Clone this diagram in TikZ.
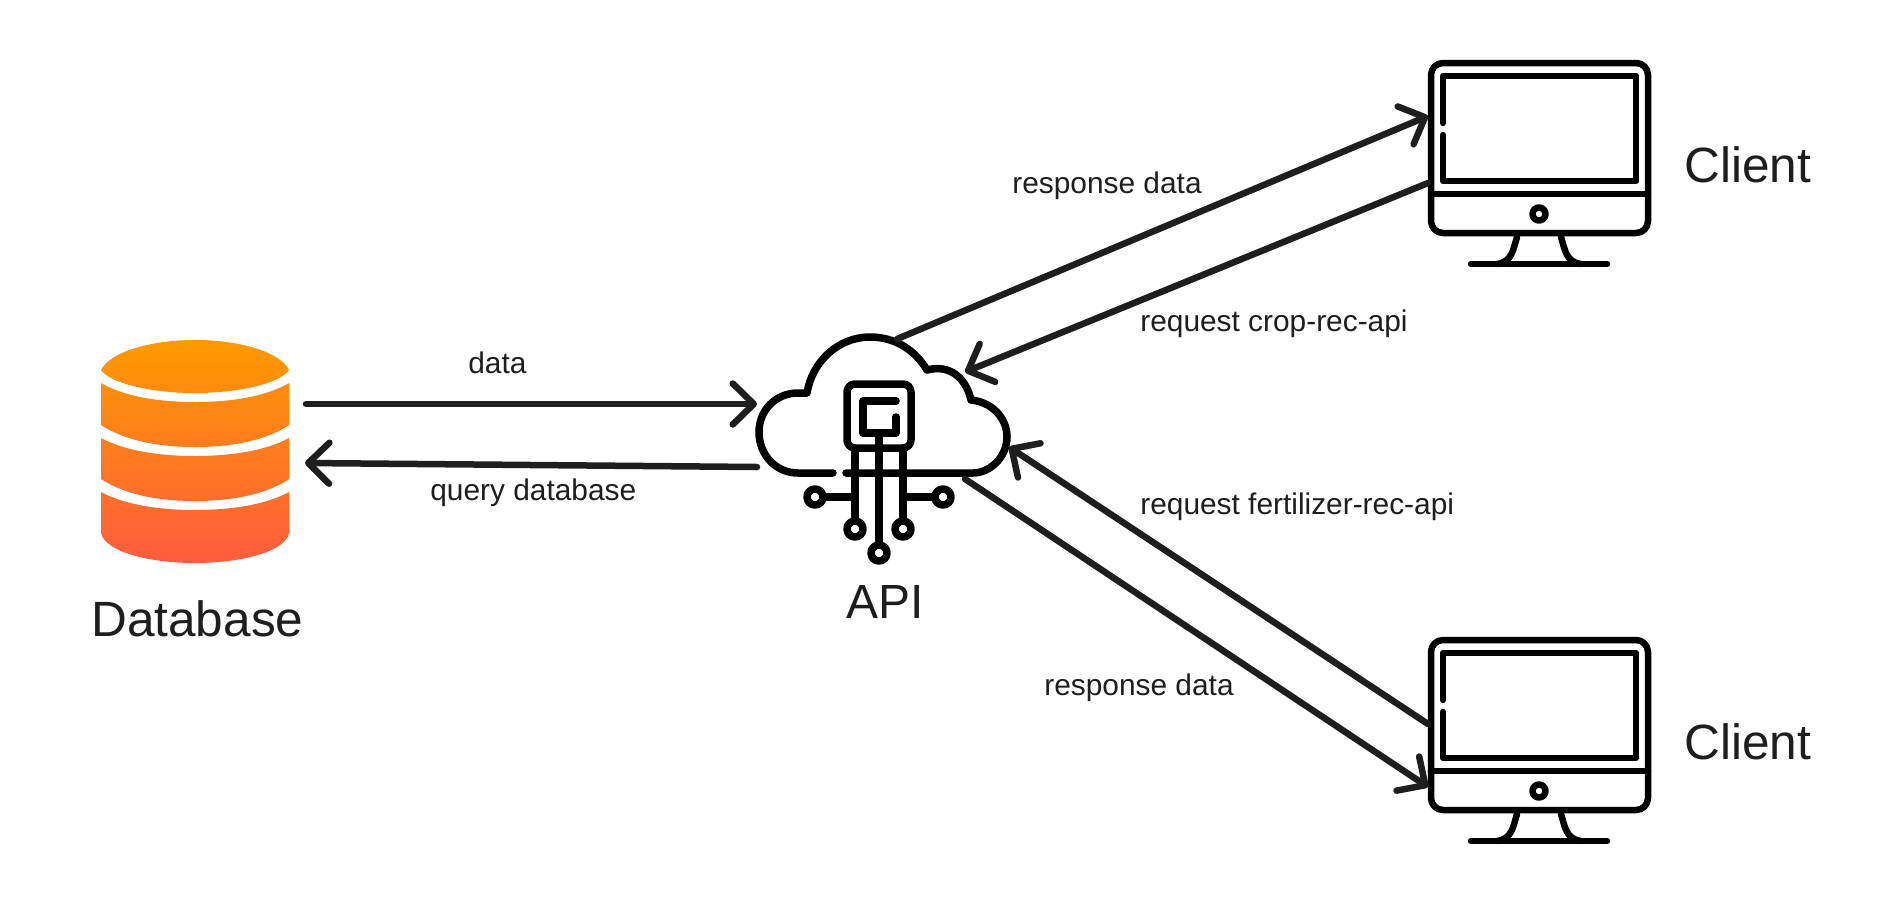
\documentclass[tikz,border=0pt]{standalone}
\usepackage{fontspec}
\setmainfont{Liberation Sans}
\usetikzlibrary{arrows.meta}
\definecolor{inkgrey}{HTML}{1E1E1E}
\definecolor{dbtop}{HTML}{FF9A00}
\definecolor{dbbottom}{HTML}{FF5C3E}
\tikzset{
	flow/.style={draw=inkgrey, line width=0.13cm, line cap=round, -{Straight Barb[length=0.42cm, width=0.82cm, round]}},
	icon/.style={draw=black, line width=0.15cm, line cap=round, line join=round},
	screen/.style={draw=black, line width=0.13cm, line cap=round, line join=round},
	flowlabel/.style={inkgrey, anchor=base west, inner sep=0pt, font=\fontsize{17}{20}\selectfont},
	title/.style={inkgrey, anchor=base west, inner sep=0pt, font=\fontsize{28.2}{32}\selectfont},
}
\begin{document}
\begin{tikzpicture}[x=0.02cm, y=-0.02cm]
	\useasboundingbox (0,0) rectangle (1900,923);
	% database
	\shade[top color=dbtop, bottom color=dbbottom]
		(101,370) .. controls (110,352) and (150,340) .. (195,340) .. controls (240,340) and (280,352) .. (289,370)
		.. controls (280,383) and (240,393) .. (195,393) .. controls (150,393) and (110,383) .. (101,370) -- cycle
		(101,383) .. controls (125,397) and (160,402) .. (195,402) .. controls (230,402) and (265,397) .. (289,383)
		-- (289,425) .. controls (265,441) and (230,447) .. (195,447) .. controls (160,447) and (125,441) .. (101,425) -- cycle
		(101,438) .. controls (125,451) and (160,456) .. (195,456) .. controls (230,456) and (265,451) .. (289,438)
		-- (289,479) .. controls (265,495) and (230,501) .. (195,501) .. controls (160,501) and (125,495) .. (101,479) -- cycle
		(101,492) .. controls (125,505) and (160,510) .. (195,510) .. controls (230,510) and (265,505) .. (289,492)
		-- (289,533) .. controls (285,552) and (240,563) .. (195,563) .. controls (150,563) and (105,552) .. (101,533) -- cycle;
	\node[title] (database) at (91,636) {Database};
	% api cloud
	\draw[icon] (833,473) -- (798,473) .. controls (776,473) and (759,455) .. (759,432) .. controls (759,410) and (776,393) .. (798,393) -- (807,393)
		.. controls (812,362) and (838,337) .. (870,337) .. controls (895,337) and (915,350) .. (927,370)
		.. controls (950,364) and (966,378) .. (971,400) .. controls (992,402) and (1007,418) .. (1007,437)
		.. controls (1007,457) and (990,473) .. (973,473) -- (846,473);
	\draw[icon, rounded corners=0.16cm] (847,384) rectangle (911,448);
	\draw[icon] (896,401) -- (863,401) -- (863,433) -- (896,433) -- (896,417);
	\draw[icon] (855,448) -- (855,521);
	\draw[icon] (879,433) -- (879,545);
	\draw[icon] (903,448) -- (903,521);
	\draw[icon] (823,497) -- (855,497);
	\draw[icon] (903,497) -- (935,497);
	\draw[icon] (815,497) circle[radius=0.16cm];
	\draw[icon] (943,497) circle[radius=0.16cm];
	\draw[icon] (855,529) circle[radius=0.16cm];
	\draw[icon] (903,529) circle[radius=0.16cm];
	\draw[icon] (879,553) circle[radius=0.16cm];
	\node[title, font=\fontsize{27.3}{32}\selectfont] (api) at (846,618) {API};
	% clients
	\foreach \dy in {0,577} {
		\begin{scope}[shift={(0,\dy)}]
			\draw[screen, rounded corners=0.24cm] (1431,63) rectangle (1648,233);
			\draw[screen] (1431,194) -- (1648,194);
			\draw[screen] (1443,123) -- (1443,76) -- (1636,76) -- (1636,181) -- (1443,181) -- (1443,135);
			\draw[screen] (1539,214) circle[radius=0.13cm];
			\draw[screen] (1517,237) .. controls (1513,250) and (1512,262) .. (1497,264);
			\draw[screen] (1561,237) .. controls (1565,250) and (1566,262) .. (1581,264);
			\draw[screen] (1471,264) -- (1607,264);
		\end{scope}
	}
	\node[title] (clientup) at (1684,182) {Client};
	\node[title] (clientdown) at (1684,759) {Client};
	% connector ends
	\coordinate (dbin) at (305,463);
	\coordinate (dbout) at (306,404);
	\coordinate (apiwest) at (757,404);
	\coordinate (apiquery) at (757,467);
	\coordinate (apinorth) at (897,339);
	\coordinate (apicrop) at (965,372);
	\coordinate (apifert) at (1009,447);
	\coordinate (apisouth) at (965,479);
	\coordinate (clientupin) at (1428,116);
	\coordinate (clientupout) at (1428,183);
	\coordinate (clientdownout) at (1428,724);
	\coordinate (clientdownin) at (1428,787);
	% connectors
	\draw[flow] (dbout) -- (apiwest);
	\draw[flow] (apiquery) -- (dbin);
	\draw[flow] (apinorth) -- (clientupin);
	\draw[flow] (clientupout) -- (apicrop);
	\draw[flow] (clientdownout) -- (apifert);
	\draw[flow] (apisouth) -- (clientdownin);
	\node[flowlabel] (datalabel) at (468,373) {data};
	\node[flowlabel] (querylabel) at (430,500) {query database};
	\node[flowlabel] (respup) at (1012,193) {response data};
	\node[flowlabel] (reqcrop) at (1140,331) {request crop-rec-api};
	\node[flowlabel] (reqfert) at (1140,514) {request fertilizer-rec-api};
	\node[flowlabel] (respdown) at (1044,695) {response data};
\end{tikzpicture}
\end{document}
